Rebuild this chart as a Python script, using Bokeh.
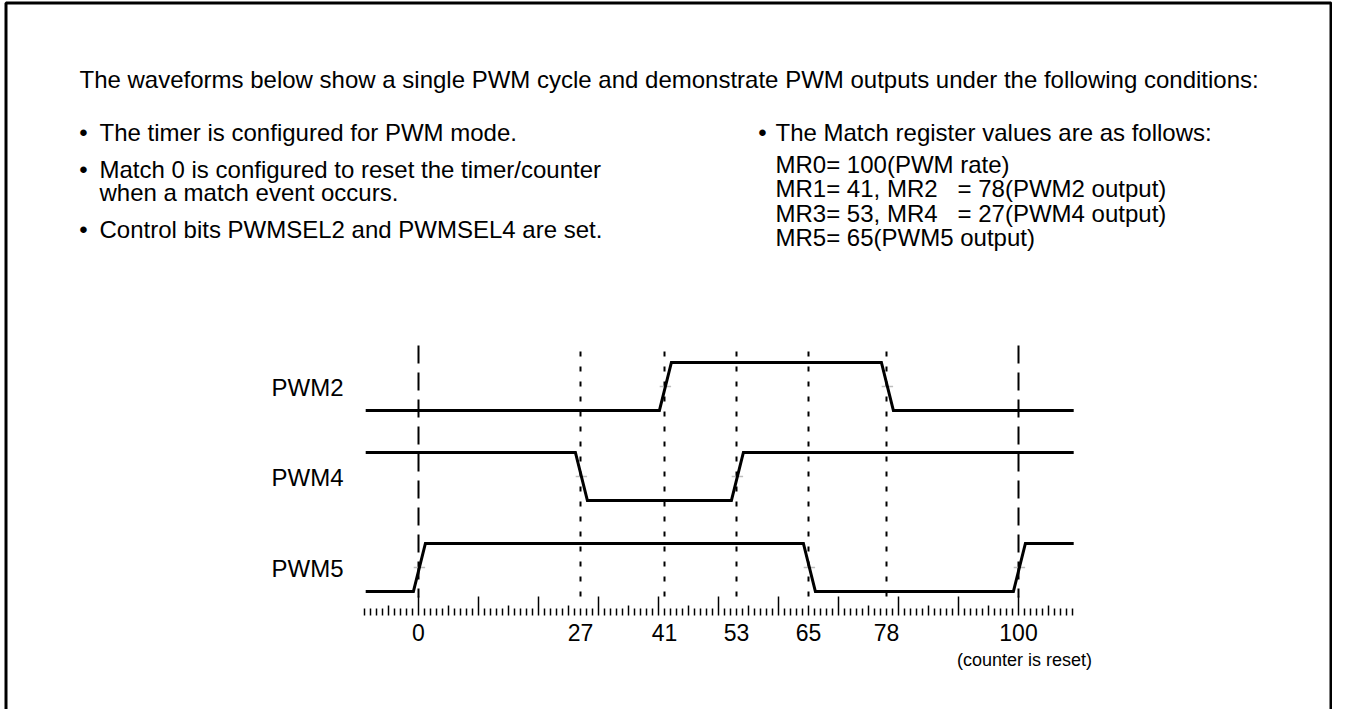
import numpy as np
from bokeh.plotting import figure
from bokeh.models import Range1d
from bokeh.core.properties import value
from bokeh.embed import file_html
from bokeh.resources import INLINE

# ---------------- data ----------------
signals = ["PWM2", "PWM4", "PWM5"]
start_levels = [0, 1, 0]
edges = [[41, 78], [27, 53], [0, 65, 100]]
match_points = [0, 27, 41, 53, 65, 78, 100]
tick_labels = ["0", "27", "41", "53", "65", "78", "100"]
reset_points = [0, 100]
match_only = [27, 41, 53, 65, 78]
ruler_min, ruler_max = -9, 109

header = "The waveforms below show a single PWM cycle and demonstrate PWM outputs under the following conditions:"
left_lines = ["The timer is configured for PWM mode.",
              "Match 0 is configured to reset the timer/counter",
              "when a match event occurs.",
              "Control bits PWMSEL2 and PWMSEL4 are set."]
left_bullet = [True, True, False, True]
right_head = "The Match register values are as follows:"
right_lines = ["MR0= 100(PWM rate)",
               "MR1= 41, MR2\u00a0\u00a0\u00a0= 78(PWM2 output)",
               "MR3= 53, MR4\u00a0\u00a0\u00a0= 27(PWM4 output)",
               "MR5= 65(PWM5 output)"]
reset_note = "(counter is reset)"

# ---------------- layout ----------------
FIG_W, FIG_H = 1332, 709
X0_PX, PPC = 418, 6.0


def cx(page_x):
    return (page_x - X0_PX) / PPC


FONT = value("Liberation Sans")
FS = "24px"
row_top = [362, 452, 543]
amp = 48
wave_x0, wave_x1 = -8.8, 109.2
edge_half, edge_off = 1.0, 0.15

p = figure(width=FIG_W, height=FIG_H, output_backend="svg", toolbar_location=None,
           x_range=Range1d(cx(0), cx(FIG_W)),
           y_range=Range1d(FIG_H, 0),
           x_axis_location=None, y_axis_location=None, min_border=0,
           background_fill_color="white", border_fill_color="white")
p.outline_line_color = None
p.grid.visible = False

# frame (left, top, right)
p.line([cx(5.5), cx(5.5), cx(1330.5), cx(1330.5)], [FIG_H, 2.5, 2.5, FIG_H],
       line_color="black", line_width=3)

# vertical marker lines
p.segment(x0=reset_points, x1=reset_points, y0=[345] * len(reset_points), y1=[597] * len(reset_points),
          line_color="black", line_width=2, line_dash="18 9")
p.segment(x0=match_only, x1=match_only, y0=[351] * len(match_only), y1=[597] * len(match_only),
          line_color="black", line_width=2, line_dash="5 10")

# waveforms
for name, lvl0, eds, top in zip(signals, start_levels, edges, row_top):
    low = top + amp
    yl = lambda l: top if l else low
    xs, ys = [wave_x0], [yl(lvl0)]
    lvl = lvl0
    mids = []
    for e in eds:
        xs.append(e + edge_off - edge_half); ys.append(yl(lvl))
        lvl = 1 - lvl
        xs.append(e + edge_off + edge_half); ys.append(yl(lvl))
        mids.append(e + edge_off)
    xs.append(wave_x1); ys.append(yl(lvl))
    mid_y = (top + low) / 2
    p.segment(x0=[m - 0.95 for m in mids], x1=[m + 0.95 for m in mids],
              y0=[mid_y] * len(mids), y1=[mid_y] * len(mids),
              line_color="#bdbdbd", line_width=1.5)
    p.line(xs, ys, line_color="black", line_width=3, line_join="miter")
    p.text(x=[cx(343)], y=[mid_y + 1], text=[name], text_align="right", text_baseline="middle",
           text_font=FONT, text_font_size=FS, text_color="black")

# ruler
ticks = np.arange(ruler_min, ruler_max + 1)
heights = np.where(ticks % 10 == 0, 19, np.where(ticks % 5 == 0, 10, 7))
p.segment(x0=ticks, x1=ticks, y0=[615] * len(ticks), y1=615 - heights,
          line_color="black", line_width=1.5)
p.text(x=match_points, y=[632] * len(match_points), text=tick_labels,
       text_align="center", text_baseline="middle", text_font=FONT, text_font_size="23px",
       text_color="black")
p.text(x=[cx(1024)], y=[659], text=[reset_note], text_align="center", text_baseline="middle",
       text_font=FONT, text_font_size="18px", text_color="black")

# header and bullet text
p.text(x=[cx(79)], y=[79], text=[header], text_align="left", text_baseline="middle",
       text_font=FONT, text_font_size=FS, text_color="black")
left_y = [132, 169, 192, 229]
p.text(x=[cx(99)] * len(left_lines), y=left_y, text=left_lines, text_align="left",
       text_baseline="middle", text_font=FONT, text_font_size=FS, text_color="black")
by = [y for y, b in zip(left_y, left_bullet) if b]
p.text(x=[cx(83)] * len(by), y=by, text=["\u2022"] * len(by), text_align="center",
       text_baseline="middle", text_font=FONT, text_font_size=FS, text_color="black")

p.text(x=[cx(762)], y=[132], text=["\u2022"], text_align="center", text_baseline="middle",
       text_font=FONT, text_font_size=FS, text_color="black")
p.text(x=[cx(775)], y=[132], text=[right_head], text_align="left", text_baseline="middle",
       text_font=FONT, text_font_size=FS, text_color="black")
right_y = [164, 188, 213, 237]
p.text(x=[cx(775)] * len(right_lines), y=right_y, text=right_lines, text_align="left",
       text_baseline="middle", text_font=FONT, text_font_size=FS, text_color="black")

open("out.html", "w").write(file_html(p, INLINE))
